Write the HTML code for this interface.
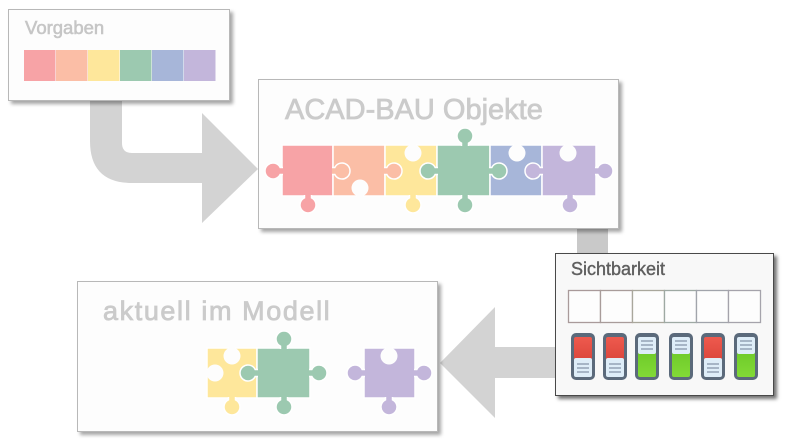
<!DOCTYPE html>
<html><head><meta charset="utf-8"><style>
html,body{margin:0;padding:0;background:#fff;}
svg{display:block;}
text{font-family:"Liberation Sans",sans-serif;}
</style></head><body>
<svg width="790" height="444" viewBox="0 0 790 444" xmlns="http://www.w3.org/2000/svg">
<defs>
<filter id="sh" x="-10%" y="-10%" width="130%" height="130%"><feDropShadow dx="3" dy="3" stdDeviation="1.8" flood-color="#000" flood-opacity="0.35"/></filter>
<filter id="sh2" x="-10%" y="-10%" width="130%" height="130%"><feDropShadow dx="3" dy="3" stdDeviation="1.8" flood-color="#000" flood-opacity="0.55"/></filter>
<linearGradient id="rg" x1="0" y1="0" x2="0" y2="1"><stop offset="0" stop-color="#ee5a4e"/><stop offset="1" stop-color="#dc463c"/></linearGradient>
<linearGradient id="gg" x1="0" y1="0" x2="0" y2="1"><stop offset="0" stop-color="#6fcb2a"/><stop offset="1" stop-color="#82da36"/></linearGradient>
</defs>

<!-- arrows -->
<path d="M90,98 L122,98 L122,143 Q122,153 132,153 L202,153 L202,113 L258,169 L202,223 L202,183 L132,183 Q90,183 90,141 Z" fill="#d3d3d3"/>
<rect x="577" y="224" width="31" height="32" fill="#c9c9c9"/>
<path d="M558,347 L495,347 L495,307 L440,363 L495,418 L495,378 L558,378 Z" fill="#d3d3d3"/>

<!-- Vorgaben -->
<rect x="8.5" y="9.5" width="221" height="91" fill="#fdfdfd" stroke="#b8b8b8" filter="url(#sh)"/>
<text x="25" y="34" font-size="18.5" fill="#c6c6c6" stroke="#c6c6c6" stroke-width="0.6">Vorgaben</text>
<rect x="24" y="50" width="31.5" height="31" fill="#f7a3a6"/>
<rect x="56" y="50" width="31.5" height="31" fill="#fbbea6"/>
<rect x="88" y="50" width="31.5" height="31" fill="#fee79b"/>
<rect x="120" y="50" width="31.5" height="31" fill="#9cc9b0"/>
<rect x="152" y="50" width="31.5" height="31" fill="#a7b6d9"/>
<rect x="184" y="50" width="31.5" height="31" fill="#c3b6db"/>

<!-- ACAD box -->
<rect x="258.5" y="79.5" width="360" height="149" fill="#fdfdfd" stroke="#b8b8b8" filter="url(#sh)"/>
<text x="285" y="119" font-size="29" fill="#cbcbcb" stroke="#cbcbcb" stroke-width="0.8">ACAD-BAU Objekte</text>

<g stroke="#fff" stroke-width="1.5">
<rect x="282" y="145" width="51" height="51" fill="#f7a3a6"/>
<rect x="333" y="145" width="52" height="51" fill="#fbbea6"/>
<rect x="385" y="145" width="52" height="51" fill="#fee79b"/>
<rect x="437" y="145" width="53" height="51" fill="#9cc9b0"/>
<rect x="490" y="145" width="52" height="51" fill="#a7b6d9"/>
<rect x="542" y="145" width="54" height="51" fill="#c3b6db"/>
<!-- knobs -->
<path d="M283,167.5 H280.19 A8 8 0 1 0 280.19,174.5 H283" fill="#f7a3a6"/>
<path d="M304.5,195 V197.81 A8 8 0 1 0 311.5,197.81 V195" fill="#f7a3a6"/>
<path d="M332,167.5 H334.81 A8 8 0 1 1 334.81,174.5 H332" fill="#fbbea6"/>
<path d="M384,167.5 H386.81 A8 8 0 1 1 386.81,174.5 H384" fill="#fbbea6"/>
<path d="M409.5,195 V197.81 A8 8 0 1 0 416.5,197.81 V195" fill="#fee79b"/>
<path d="M438,167.5 H435.19 A8 8 0 1 0 435.19,174.5 H438" fill="#9cc9b0"/>
<path d="M461.5,146 V143.19 A8 8 0 1 1 468.5,143.19 V146" fill="#9cc9b0"/>
<path d="M461.5,195 V197.81 A8 8 0 1 0 468.5,197.81 V195" fill="#9cc9b0"/>
<path d="M489,167.5 H491.81 A8 8 0 1 1 491.81,174.5 H489" fill="#9cc9b0"/>
<path d="M543,167.5 H540.19 A8 8 0 1 0 540.19,174.5 H543" fill="#c3b6db"/>
<path d="M595,167.5 H597.81 A8 8 0 1 1 597.81,174.5 H595" fill="#c3b6db"/>
<path d="M566.5,195 V197.81 A8 8 0 1 0 573.5,197.81 V195" fill="#c3b6db"/>
</g>
<g stroke="none" fill="#fdfdfd">
<circle cx="360" cy="188" r="8.5"/>
<rect x="356.5" y="190" width="7" height="7"/>
<circle cx="413" cy="153" r="8.5"/>
<rect x="409.5" y="144" width="7" height="6"/>
<circle cx="517" cy="153" r="8.5"/>
<rect x="513.5" y="144" width="7" height="6"/>
<circle cx="568" cy="153" r="8.5"/>
<rect x="564.5" y="144" width="7" height="6"/>
</g>

<!-- Modell box -->
<rect x="77.5" y="281.5" width="360" height="150" fill="#fdfdfd" stroke="#b8b8b8" filter="url(#sh)"/>
<text x="103" y="320" font-size="27" fill="#cbcbcb" stroke="#cbcbcb" stroke-width="0.8" letter-spacing="1.6">aktuell im Modell</text>

<g stroke="#fff" stroke-width="1.5">
<rect x="207" y="348" width="50" height="50" fill="#fee79b"/>
<rect x="257" y="348" width="53" height="50" fill="#9cc9b0"/>
<rect x="364" y="348" width="51" height="50" fill="#c3b6db"/>
<path d="M228.5,397 V399.81 A8 8 0 1 0 235.5,399.81 V397" fill="#fee79b"/>
<path d="M258,369.5 H255.19 A8 8 0 1 0 255.19,376.5 H258" fill="#9cc9b0"/>
<path d="M280.5,349 V346.19 A8 8 0 1 1 287.5,346.19 V349" fill="#9cc9b0"/>
<path d="M309,369.5 H311.81 A8 8 0 1 1 311.81,376.5 H309" fill="#9cc9b0"/>
<path d="M280.5,397 V399.81 A8 8 0 1 0 287.5,399.81 V397" fill="#9cc9b0"/>
<path d="M365,369.5 H362.19 A8 8 0 1 0 362.19,376.5 H365" fill="#c3b6db"/>
<path d="M414,369.5 H416.81 A8 8 0 1 1 416.81,376.5 H414" fill="#c3b6db"/>
<path d="M385.5,397 V399.81 A8 8 0 1 0 392.5,399.81 V397" fill="#c3b6db"/>
</g>
<g stroke="none" fill="#fdfdfd">
<circle cx="215" cy="373" r="8.5"/>
<rect x="206" y="369.5" width="7" height="7"/>
<circle cx="232" cy="356" r="8.5"/>
<rect x="228.5" y="347" width="7" height="6"/>
<circle cx="389" cy="356" r="8.5"/>
<rect x="385.5" y="347" width="7" height="6"/>
</g>

<!-- Sichtbarkeit -->
<rect x="555.5" y="253.5" width="218" height="142" fill="#f8f8f8" stroke="#4a4a4a" filter="url(#sh2)"/>
<text x="571" y="275" font-size="18" fill="#5f5f5f" stroke="#5f5f5f" stroke-width="0.4">Sichtbarkeit</text>
<g fill="#fdfdfd" stroke-width="1.3">
<rect x="568.5" y="290.5" width="32" height="32" stroke="#a99a9a"/>
<rect x="600.5" y="290.5" width="32" height="32" stroke="#a89c9a"/>
<rect x="632.5" y="290.5" width="32" height="32" stroke="#a9a79c"/>
<rect x="664.5" y="290.5" width="32" height="32" stroke="#9ea9a3"/>
<rect x="696.5" y="290.5" width="32" height="32" stroke="#a1a4ab"/>
<rect x="728.5" y="290.5" width="32" height="32" stroke="#a5a3ab"/>
</g>

<!-- toggles -->
<g transform="translate(571,333)">
<rect x="0" y="0" width="24" height="47" rx="5" fill="#5b6a7b"/>
<rect x="3" y="4" width="18" height="23" rx="2" fill="url(#rg)"/>
<rect x="3" y="25" width="18" height="19" rx="2" fill="#deedf8"/>
<g stroke="#8797ab" stroke-width="1.3"><line x1="6" y1="31" x2="18" y2="31"/><line x1="6" y1="35" x2="18" y2="35"/><line x1="6" y1="39" x2="18" y2="39"/></g>
</g>
<g transform="translate(603,333)">
<rect x="0" y="0" width="24" height="47" rx="5" fill="#5b6a7b"/>
<rect x="3" y="4" width="18" height="23" rx="2" fill="url(#rg)"/>
<rect x="3" y="25" width="18" height="19" rx="2" fill="#deedf8"/>
<g stroke="#8797ab" stroke-width="1.3"><line x1="6" y1="31" x2="18" y2="31"/><line x1="6" y1="35" x2="18" y2="35"/><line x1="6" y1="39" x2="18" y2="39"/></g>
</g>
<g transform="translate(701,333)">
<rect x="0" y="0" width="24" height="47" rx="5" fill="#5b6a7b"/>
<rect x="3" y="4" width="18" height="23" rx="2" fill="url(#rg)"/>
<rect x="3" y="25" width="18" height="19" rx="2" fill="#deedf8"/>
<g stroke="#8797ab" stroke-width="1.3"><line x1="6" y1="31" x2="18" y2="31"/><line x1="6" y1="35" x2="18" y2="35"/><line x1="6" y1="39" x2="18" y2="39"/></g>
</g>
<g transform="translate(635,333)">
<rect x="0" y="0" width="24" height="47" rx="5" fill="#5b6a7b"/>
<rect x="3" y="19" width="18" height="25" rx="2" fill="url(#gg)"/>
<rect x="3" y="4" width="18" height="17" rx="2" fill="#deedf8"/>
<g stroke="#8797ab" stroke-width="1.3"><line x1="6" y1="8" x2="18" y2="8"/><line x1="6" y1="12" x2="18" y2="12"/><line x1="6" y1="16" x2="18" y2="16"/></g>
</g>
<g transform="translate(669,333)">
<rect x="0" y="0" width="24" height="47" rx="5" fill="#5b6a7b"/>
<rect x="3" y="19" width="18" height="25" rx="2" fill="url(#gg)"/>
<rect x="3" y="4" width="18" height="17" rx="2" fill="#deedf8"/>
<g stroke="#8797ab" stroke-width="1.3"><line x1="6" y1="8" x2="18" y2="8"/><line x1="6" y1="12" x2="18" y2="12"/><line x1="6" y1="16" x2="18" y2="16"/></g>
</g>
<g transform="translate(734,333)">
<rect x="0" y="0" width="24" height="47" rx="5" fill="#5b6a7b"/>
<rect x="3" y="19" width="18" height="25" rx="2" fill="url(#gg)"/>
<rect x="3" y="4" width="18" height="17" rx="2" fill="#deedf8"/>
<g stroke="#8797ab" stroke-width="1.3"><line x1="6" y1="8" x2="18" y2="8"/><line x1="6" y1="12" x2="18" y2="12"/><line x1="6" y1="16" x2="18" y2="16"/></g>
</g>
</svg>
</body></html>
